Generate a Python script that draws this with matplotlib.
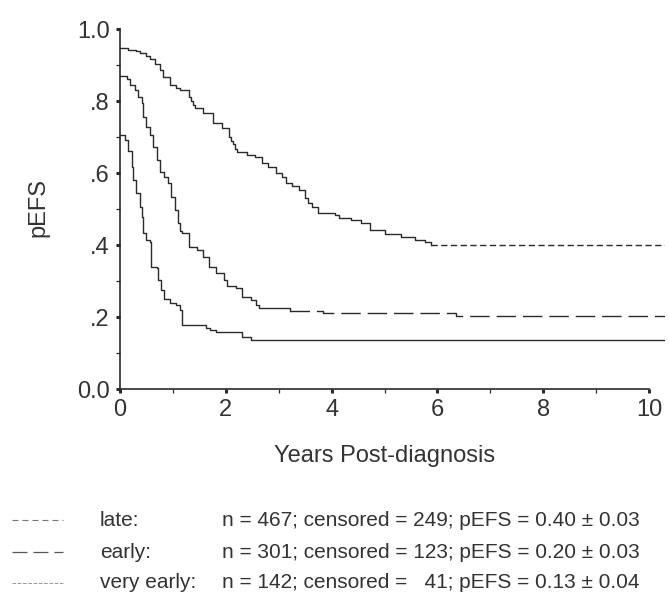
"""Kaplan-Meier style pEFS curves by relapse timing (late / early / very early)."""

import matplotlib

matplotlib.use("Agg")
import matplotlib.pyplot as plt
from matplotlib.lines import Line2D

plt.rcParams["font.family"] = ["Liberation Sans", "DejaVu Sans"]
plt.rcParams["lines.scale_dashes"] = False

INK = "#2a2a2a"

# --- data (years, survival probability) ---
LATE_T = [0, 0.15, 0.30, 0.38, 0.50, 0.57, 0.66, 0.75, 0.81, 0.94, 1.05, 1.13,
          1.31, 1.35, 1.38, 1.41, 1.56, 1.75, 1.93, 2.06, 2.10, 2.14, 2.18,
          2.21, 2.40, 2.55, 2.68, 2.80, 2.94, 3.06, 3.13, 3.25, 3.38, 3.50,
          3.56, 3.62, 3.75, 4.07, 4.13, 4.37, 4.56, 4.73, 5.00, 5.31, 5.57,
          5.76, 5.87]
LATE_S = [0.947, 0.943, 0.938, 0.932, 0.925, 0.918, 0.904, 0.886, 0.868, 0.844,
          0.836, 0.830, 0.812, 0.800, 0.790, 0.780, 0.766, 0.738, 0.725, 0.700,
          0.690, 0.680, 0.668, 0.658, 0.650, 0.645, 0.628, 0.617, 0.600, 0.589,
          0.572, 0.565, 0.553, 0.530, 0.518, 0.506, 0.490, 0.483, 0.474, 0.469,
          0.460, 0.443, 0.430, 0.422, 0.414, 0.408, 0.400]
LATE_SOLID_UNTIL = 5.87

EARLY_T = [0, 0.13, 0.19, 0.28, 0.34, 0.41, 0.43, 0.50, 0.56, 0.62, 0.69, 0.75,
           0.84, 0.90, 0.97, 1.03, 1.09, 1.13, 1.18, 1.31, 1.46, 1.56, 1.69,
           1.82, 1.97, 2.03, 2.19, 2.31, 2.48, 2.57, 2.63, 3.21, 3.83, 6.35]
EARLY_S = [0.870, 0.860, 0.844, 0.830, 0.812, 0.794, 0.756, 0.729, 0.706, 0.673,
           0.636, 0.604, 0.590, 0.572, 0.534, 0.497, 0.461, 0.440, 0.433, 0.394,
           0.386, 0.367, 0.339, 0.322, 0.303, 0.286, 0.280, 0.256, 0.247, 0.233,
           0.226, 0.217, 0.212, 0.203]
EARLY_SOLID_UNTIL = 3.21

VERY_T = [0, 0.09, 0.15, 0.22, 0.25, 0.31, 0.38, 0.41, 0.43, 0.50, 0.56, 0.59,
          0.69, 0.72, 0.78, 0.84, 0.94, 1.06, 1.13, 1.18, 1.63, 1.70, 1.81,
          2.31, 2.47]
VERY_S = [0.706, 0.692, 0.660, 0.618, 0.580, 0.544, 0.506, 0.478, 0.433, 0.414,
          0.409, 0.340, 0.336, 0.303, 0.275, 0.250, 0.239, 0.233, 0.219, 0.178,
          0.169, 0.163, 0.157, 0.145, 0.135]
VERY_SOLID_UNTIL = 10.3

FOLLOW_UP_END = 10.3

GROUP_LABELS = ["late:", "early:", "very early:"]
GROUP_STATS = [
    "n = 467; censored = 249; pEFS = 0.40 \u00b1 0.03",
    "n = 301; censored = 123; pEFS = 0.20 \u00b1 0.03",
    "n = 142; censored =   41; pEFS = 0.13 \u00b1 0.04",
]

X_TICKS = [0, 2, 4, 6, 8, 10]
Y_TICKS = [0.0, 0.2, 0.4, 0.6, 0.8, 1.0]
Y_TICK_LABELS = ["0.0", ".2", ".4", ".6", ".8", "1.0"]

# tail dash styles (points) for the flat censored stretch of each curve
TAIL_DASH = [(0, (4.5, 2.5)), (0, (14, 5)), "solid"]
LEGEND_STYLE = [
    dict(color="#777777", lw=0.8, linestyle=(0, (4.3, 2.9))),
    dict(color="#555555", lw=0.9, linestyle=(0, (10.8, 4.3))),
    dict(color="#999999", lw=0.7, linestyle=(0, (2.6, 1.2))),
]


def draw_curve(ax, t, s, solid_until, tail_style):
    t = list(t) + [FOLLOW_UP_END]
    s = list(s) + [s[-1]]
    k = max(i for i, v in enumerate(t) if v <= solid_until)
    ax.step(t[: k + 1], s[: k + 1], where="post", color=INK, lw=1.0)
    if k < len(t) - 1:
        ax.step(t[k:], s[k:], where="post", color=INK, lw=1.0,
                linestyle=tail_style)


fig = plt.figure(figsize=(6.69, 5.97), dpi=100)
ax = fig.add_axes([120 / 669, 208 / 597, 545 / 669, 360 / 597])

curves = [
    (LATE_T, LATE_S, LATE_SOLID_UNTIL),
    (EARLY_T, EARLY_S, EARLY_SOLID_UNTIL),
    (VERY_T, VERY_S, VERY_SOLID_UNTIL),
]
for (t, s, until), tail in zip(curves, TAIL_DASH):
    draw_curve(ax, t, s, until, tail)

ax.set_xlim(0, FOLLOW_UP_END)
ax.set_ylim(0, 1.0)
for side in ("top", "right"):
    ax.spines[side].set_visible(False)
ax.spines["bottom"].set_bounds(0, 10)
ax.spines["left"].set_bounds(0, 1)
for side in ("bottom", "left"):
    ax.spines[side].set_color(INK)
    ax.spines[side].set_linewidth(1.2)

ax.set_xticks(X_TICKS)
ax.set_xticks([1, 3, 5, 7, 9], minor=True)
ax.set_yticks(Y_TICKS)
ax.set_yticklabels(Y_TICK_LABELS)
ax.set_yticks([0.1, 0.3, 0.5, 0.7, 0.9], minor=True)
ax.tick_params(which="major", direction="out", length=3, width=2.2, colors=INK,
               labelsize=17, labelcolor="#333333")
ax.tick_params(axis="x", which="major", pad=4.5)
ax.tick_params(axis="y", which="major", pad=4.5)
ax.tick_params(which="minor", direction="out", length=3, width=0.9, colors=INK)

fig.text(385 / 669, 1 - 456 / 597, "Years Post-diagnosis", ha="center",
         va="center", fontsize=17, color="#333333")
fig.text(38 / 669, 1 - 207 / 597, "pEFS", ha="center", va="center",
         rotation=90, fontsize=17, color="#333333")

# legend table at the bottom
row_y = [520, 552, 583]
for y_px, label, stats, style in zip(row_y, GROUP_LABELS, GROUP_STATS,
                                     LEGEND_STYLE):
    yf = 1 - y_px / 597
    fig.add_artist(Line2D([12 / 669, 63 / 669], [yf, yf],
                          transform=fig.transFigure, **style))
    fig.text(100 / 669, yf, label, ha="left", va="center", fontsize=15,
             color="#333333")
    fig.text(222 / 669, yf, stats, ha="left", va="center", fontsize=15,
             color="#333333")

fig.savefig("out.png", dpi=100)
